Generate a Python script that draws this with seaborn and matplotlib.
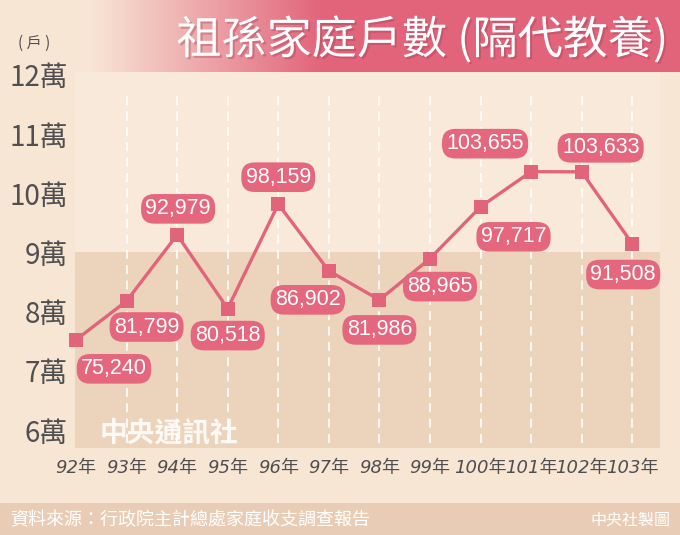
import matplotlib
matplotlib.use("Agg")
import matplotlib.pyplot as plt
import matplotlib.patheffects as pe
from matplotlib.patches import Rectangle
import numpy as np
import pandas as pd
import seaborn as sns

# ---- data ----
years = ["92年", "93年", "94年", "95年", "96年", "97年", "98年", "99年",
         "100年", "101年", "102年", "103年"]
households = [75240, 81799, 92979, 80518, 98159, 86902, 81986, 88965,
              97717, 103655, 103633, 91508]
ytick_values = [60000, 70000, 80000, 90000, 100000, 110000, 120000]
ytick_labels = ["6萬", "7萬", "8萬", "9萬", "10萬", "11萬", "12萬"]
title = "祖孫家庭戶數 (隔代教養)"
unit = "( 戶 )"
source = "資料來源：行政院主計總處家庭收支調查報告"
credit = "中央社製圖"
watermark = "中央通訊社"

# label offsets in pixels (style only)
label_offsets = [(38, -29), (20, -26), (1, 26), (0, -27), (0, 27), (-21, -29),
                 (0, -30), (10, -28), (33, -30), (-46, 28), (19, 24), (-9, -31)]

CJK = ["Noto Sans CJK TC", "DejaVu Sans"]
BG = "#f8e6d5"
AXBG = "#f9e9da"
RECT = "#ecd3bc"
PINK = "#e2647b"
LABELPINK = "#e4677e"
FOOT = "#e9ccb5"
GRAY = "#4f4f4f"

sns.set_theme(style="white")
plt.rcParams["font.family"] = CJK

W, H = 680, 535
fig = plt.figure(figsize=(W / 100, H / 100), dpi=100, facecolor=BG)

# banner with gradient
bax = fig.add_axes([0, 1 - 72 / H, 1, 72 / H])
bax.set_axis_off()
xs = np.arange(W)
alpha = np.clip((xs - 90) / (320 - 90), 0, 1)
rgb = np.array(matplotlib.colors.to_rgb(PINK))
grad = np.zeros((2, W, 4))
grad[..., :3] = rgb
grad[..., 3] = alpha
bax.imshow(grad, aspect="auto", extent=[0, W, 0, 1])
bax.set_xlim(0, W)
bax.set_ylim(0, 1)

# main axes
ax = fig.add_axes([75 / W, 1 - 448 / H, (660 - 75) / W, (448 - 72) / H])
ax.set_facecolor(AXBG)
for s in ax.spines.values():
    s.set_visible(False)

df = pd.DataFrame({"i": np.arange(len(years)), "v": households})
ax.axhspan(50000, 90000, color=RECT, zorder=0, lw=0)
ax.vlines(df["i"][1:], 50000, 117100, colors="white", linestyles=(0, (5, 3.5)),
          lw=1.3, alpha=0.9, zorder=1)
sns.lineplot(data=df, x="i", y="v", ax=ax, color=PINK, lw=2.4, marker="s",
             markersize=10, markeredgewidth=0, zorder=3)
for ln in ax.lines:
    ln.set_clip_on(False)

ax.set_xlim(-0.02, 11.55)
ax.set_ylim(56960, 120500)
ax.set_xlabel("")
ax.set_ylabel("")
ax.set_yticks(ytick_values)
ax.set_yticklabels(ytick_labels, fontsize=20, color=GRAY, family=CJK)
ax.set_xticks(df["i"])
ax.set_xticklabels(years, fontsize=13, color=GRAY, style="italic",
                   family=["DejaVu Sans", "Noto Sans CJK TC"])
ax.tick_params(axis="y", length=0, pad=5)
ax.tick_params(axis="x", length=0, pad=8)
ax.grid(False)

for i, v in enumerate(households):
    dx, dy = label_offsets[i]
    ax.annotate(f"{v:,}", (i, v), xytext=(dx, dy), textcoords="offset pixels",
                ha="center", va="center", fontsize=15.5, color="white",
                family=["Liberation Sans", "DejaVu Sans"], zorder=5,
                bbox=dict(boxstyle="round,pad=0.2,rounding_size=0.62",
                          fc=LABELPINK, ec="none"))

# texts on figure
fig.text(668 / W, 1 - 40 / H, title, ha="right", va="center", fontsize=32.5,
         color="white", family=CJK,
         path_effects=[pe.withSimplePatchShadow(offset=(1.5, -1.5),
                                                shadow_rgbFace="#a03c50",
                                                alpha=0.35)])
fig.text(34 / W, 1 - 43 / H, unit, ha="center", va="center", fontsize=11,
         color=GRAY, family=CJK)

# footer
fig.patches.append(Rectangle((0, 0), 1, 32 / H, transform=fig.transFigure,
                             facecolor=FOOT, edgecolor="none", zorder=0))
fig.text(10 / W, 1 - 520 / H, source, ha="left", va="center", fontsize=13,
         color="white", family=CJK)
fig.text(670 / W, 1 - 520 / H, credit, ha="right", va="center", fontsize=11.5,
         color="white", family=CJK)

# watermark
fig.text(100 / W, 1 - 433 / H, watermark, ha="left", va="center", fontsize=20,
         color="white", alpha=0.85, weight="bold", family=CJK, zorder=10)

fig.savefig("out.png", dpi=100, facecolor=BG)
